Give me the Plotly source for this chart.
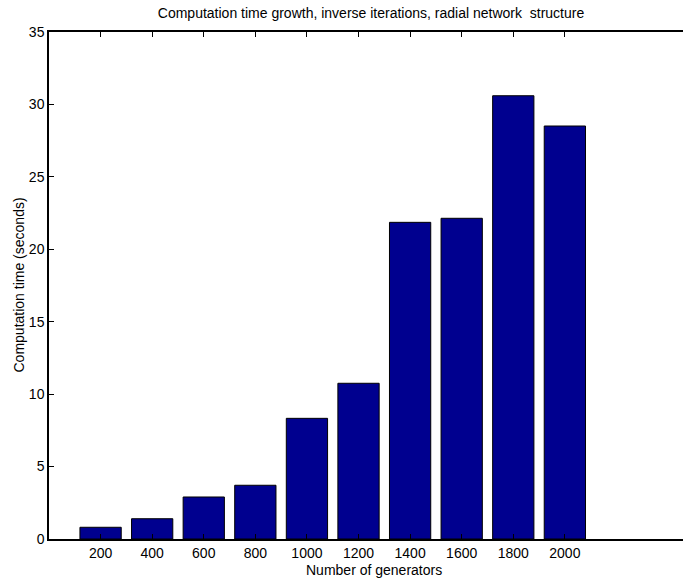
import plotly.graph_objects as go

generators = [200, 400, 600, 800, 1000, 1200, 1400, 1600, 1800, 2000]
comp_time = [0.81, 1.40, 2.90, 3.71, 8.33, 10.75, 21.86, 22.14, 30.60, 28.51]
y_ticks = [0, 5, 10, 15, 20, 25, 30, 35]

title_text = "Computation time growth, inverse iterations, radial network  structure"
xlabel = "Number of generators"
ylabel = "Computation time (seconds)"

W, H = 683, 578
L, R, T, B = 49, 0, 32, 39

fig = go.Figure()
fig.add_trace(go.Bar(
    x=generators, y=comp_time, width=160,
    marker=dict(color="#00008F", line=dict(color="black", width=1)),
))

font = dict(family="Liberation Sans, Arial, sans-serif", size=14, color="black")
PW, PH = W - L - R, H - T - B

fig.update_layout(
    width=W, height=H,
    margin=dict(l=L, r=R, t=T, b=B),
    paper_bgcolor="white", plot_bgcolor="white",
    showlegend=False,
    font=font,
    title=dict(text=title_text, x=371 / W, xanchor="center", y=1 - 13 / H, yanchor="middle",
               font=font),
    xaxis=dict(
        range=[0, 2458], tickmode="array", tickvals=generators,
        ticktext=[str(g) for g in generators],
        showline=True, linecolor="black", linewidth=1.5, mirror="ticks",
        ticks="inside", ticklen=5, tickcolor="black", showgrid=False, zeroline=False,
        tickfont=font,
    ),
    yaxis=dict(
        range=[0, 35], tickmode="array", tickvals=y_ticks,
        showline=True, linecolor="black", linewidth=1.5, mirror=False,
        ticks="inside", ticklen=5, tickcolor="black", showgrid=False, zeroline=False,
        tickfont=font,
    ),
    annotations=[
        dict(text=xlabel, xref="paper", yref="paper",
             x=(374 - L) / PW, y=-(570 - (H - B)) / PH,
             xanchor="center", yanchor="middle", showarrow=False, font=font),
        dict(text=ylabel, xref="paper", yref="paper", textangle=-90,
             x=-(L - 18) / PW, y=0.5,
             xanchor="center", yanchor="middle", showarrow=False, font=font),
    ],
)

fig.write_html("out.html")
